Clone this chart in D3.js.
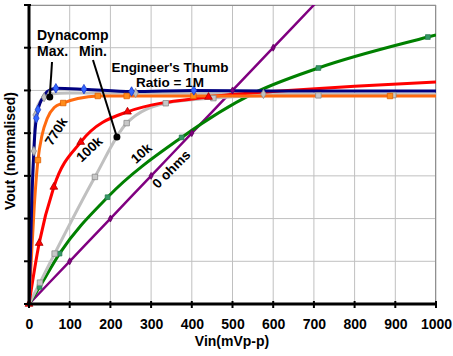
<!DOCTYPE html>
<html><head><meta charset="utf-8">
<script src="https://cdn.jsdelivr.net/npm/d3@7"></script>
<style>body{margin:0;background:#fff}svg{display:block;font-family:"Liberation Sans",Arial,sans-serif;font-weight:bold}</style>
</head><body><svg id="c" width="453" height="356"></svg>
<script>
// ---- data ----
const xTicks = [0,100,200,300,400,500,600,700,800,900,1000];
const yTicks = [0,0.2,0.4,0.6,0.8,1.0,1.2,1.4];

const purpleX = [0,100,200,300,400,500,600,700,720];
const purpleY = [0,0.2,0.4,0.6,0.8,1.0,1.2,1.4,1.44];
const purpleMk = [0,1,2,3,4,5,6];

const greenX = [0,26,75,193,375,550,711,980,1000];
const greenY = [0,0.08,0.236,0.5,0.78,0.985,1.105,1.25,1.26];
const greenMk = [1,2,3,4,6,7];

const grayMinX = [0,27,63,162,240,336,453,576,711,895,1000];
const grayMinY = [0,0.1,0.236,0.595,0.847,0.94,0.964,0.975,0.977,0.978,0.978];
const grayMinMk = [1,2,3,4,5,6,8,9];

const grayMaxX = [0,4,8,12,14,16,22,37,51,100,262,576,1000];
const grayMaxY = [0,0.3,0.55,0.716,0.82,0.885,0.93,0.968,0.983,0.988,0.988,0.983,0.98];
const grayMaxMk = [3,5,7,8,10,11];

const redX = [0,25,61,127,242,441,617,800,1000];
const redY = [0,0.285,0.548,0.758,0.9,0.969,0.997,1.02,1.04];
const redMk = [0,1,2,3,4,5];

const orangeX = [0,6,13,22,32,45,62,84,120,169,240,404,887,1000];
const orangeY = [0,0.22,0.46,0.674,0.79,0.87,0.92,0.941,0.962,0.974,0.974,0.974,0.974,0.974];
const orangeMk = [3,7,9,10,11,12];

const blueX = [0,3,7,11,15,18,22,27,35,45,66,135,252,405,600,1000];
const blueY = [0,0.2,0.49,0.68,0.815,0.87,0.91,0.94,0.97,0.995,1.01,1.006,0.995,1.0,0.997,0.997];
const blueMk = [5,6,10,11,12,13];

const curveLabels = ["770k","100k","10k","0 ohms"];
const xTitle = "Vin(mVp-p)";
const yTitle = "Vout (normalised)";

// ---- layout ----
const svg = d3.select("#c");
const L=29, R=436, T=5, B=304;
const x = d3.scaleLinear().domain([0,1000]).range([L,R]);
const y = d3.scaleLinear().domain([0,1.4]).range([B,T]);

svg.append("defs").append("clipPath").attr("id","clip")
  .append("rect").attr("x",L).attr("y",T).attr("width",R-L).attr("height",B-T);

// grid
const g = svg.append("g");
g.selectAll(".vg").data(xTicks.slice(1)).join("line")
  .attr("x1",d=>x(d)).attr("x2",d=>x(d)).attr("y1",T).attr("y2",B)
  .attr("stroke","#c0c0c0").attr("stroke-width",1);
g.selectAll(".hg").data(yTicks.slice(1)).join("line")
  .attr("x1",L).attr("x2",R).attr("y1",d=>y(d)).attr("y2",d=>y(d))
  .attr("stroke","#c0c0c0").attr("stroke-width",1);
svg.append("rect").attr("x",L).attr("y",T+0.5).attr("width",R-L-0.5).attr("height",B-T)
  .attr("fill","none").attr("stroke","#909090").attr("stroke-width",1);

// series
const series = [
  {x:purpleX,y:purpleY,mk:purpleMk,c:"#800080",w:2.5,shape:d3.symbolDiamond,ms:14,mf:"#800080",mst:"#600060"},
  {x:greenX,y:greenY,mk:greenMk,c:"#008000",w:3,shape:d3.symbolSquare,ms:22,mf:"#339966",mst:"#2a7a50"},
  {x:grayMinX,y:grayMinY,mk:grayMinMk,c:"#c0c0c0",w:3,shape:d3.symbolSquare,ms:30,mf:"#c8c8c8",mst:"#8c8c8c"},
  {x:grayMaxX,y:grayMaxY,mk:grayMaxMk,c:"#c0c0c0",w:3,shape:d3.symbolDiamond,ms:24,mf:"#c0c0c0",mst:"#909090"},
  {x:redX,y:redY,mk:redMk,c:"#ff0000",w:3,shape:d3.symbolTriangle,ms:26,mf:"#ff0000",mst:"#aa0000"},
  {x:orangeX,y:orangeY,mk:orangeMk,c:"#ff6a10",w:3,shape:d3.symbolSquare,ms:30,mf:"#ff8c1a",mst:"#e06000"},
  {x:blueX,y:blueY,mk:blueMk,c:"#000080",w:3,shape:d3.symbolDiamond,ms:26,mf:"#3366ff",mst:"#1a3acc"}
];
const line = d3.line().x(d=>x(d[0])).y(d=>y(d[1])).curve(d3.curveMonotoneX);
const lg = svg.append("g").attr("clip-path","url(#clip)");
series.forEach(s=>{
  const pts = s.x.map((v,i)=>[v,s.y[i]]);
  lg.append("path").datum(pts).attr("d",line).attr("fill","none")
    .attr("stroke",s.c).attr("stroke-width",s.w).attr("stroke-linejoin","round");
});
const mg = svg.append("g");
series.forEach(s=>{
  const pts = s.mk.map(i=>[s.x[i],s.y[i]]);
  mg.selectAll(null).data(pts).join("path")
    .attr("d",d3.symbol().type(s.shape).size(s.ms))
    .attr("transform",d=>`translate(${x(d[0])},${y(d[1])})`)
    .attr("fill",s.mf).attr("stroke",s.mst).attr("stroke-width",0.8);
});

// axes
const xa = svg.append("g").attr("transform",`translate(0,${B})`)
  .call(d3.axisBottom(x).tickValues(xTicks).tickSize(0).tickPadding(15).tickFormat(d3.format("d")));
xa.select(".domain").remove();
xa.selectAll("text").attr("font-size",14).attr("font-weight","bold").attr("fill","#000")
  .attr("font-family","Liberation Sans, Arial, sans-serif");
xa.selectAll(".tk").data(xTicks).join("line").attr("x1",d=>x(d)).attr("x2",d=>x(d))
  .attr("y1",-3).attr("y2",4).attr("stroke","#000").attr("stroke-width",2);
svg.append("line").attr("x1",L-2).attr("x2",R+1).attr("y1",B).attr("y2",B).attr("stroke","#000").attr("stroke-width",3);

const ya = svg.append("g");
ya.selectAll("line").data(yTicks).join("line").attr("x1",L-5).attr("x2",L+2)
  .attr("y1",d=>y(d)).attr("y2",d=>y(d)).attr("stroke","#000").attr("stroke-width",2);
svg.append("line").attr("x1",L).attr("x2",L).attr("y1",T-1).attr("y2",B+1).attr("stroke","#000").attr("stroke-width",3);

svg.append("text").attr("x",232).attr("y",346).attr("text-anchor","middle").attr("font-size",14).text(xTitle);
svg.append("text").attr("transform","translate(15,151) rotate(-90)").attr("text-anchor","middle").attr("font-size",14).text(yTitle);

// annotations
const ann = svg.append("g").attr("font-size",14);
ann.append("text").attr("x",37).attr("y",40).text("Dynacomp");
ann.append("text").attr("x",37).attr("y",56).text("Max.");
ann.append("text").attr("x",79).attr("y",56).text("Min.");
ann.append("text").attr("x",170).attr("y",72).attr("text-anchor","middle").attr("font-size",13.5).text("Engineer's Thumb");
ann.append("text").attr("x",170).attr("y",87).attr("text-anchor","middle").attr("font-size",13.5).text("Ratio = 1M");

const arrows = [[52,62,51,0.969],[93,60,216,0.782]];
arrows.forEach(a=>{
  ann.append("line").attr("x1",a[0]).attr("y1",a[1]).attr("x2",x(a[2])).attr("y2",y(a[3]))
    .attr("stroke","#000").attr("stroke-width",2);
  ann.append("circle").attr("cx",x(a[2])).attr("cy",y(a[3])).attr("r",3.5).attr("fill","#000");
});

const lblPos = [[57,132,-58],[90,150,-43],[142,154,-42],[172,170,-45]];
curveLabels.forEach((t,i)=>{
  svg.append("text").attr("transform",`translate(${lblPos[i][0]},${lblPos[i][1]}) rotate(${lblPos[i][2]})`)
    .attr("text-anchor","middle").attr("dominant-baseline","middle").attr("font-size",13.5).text(t);
});
</script></body></html>
